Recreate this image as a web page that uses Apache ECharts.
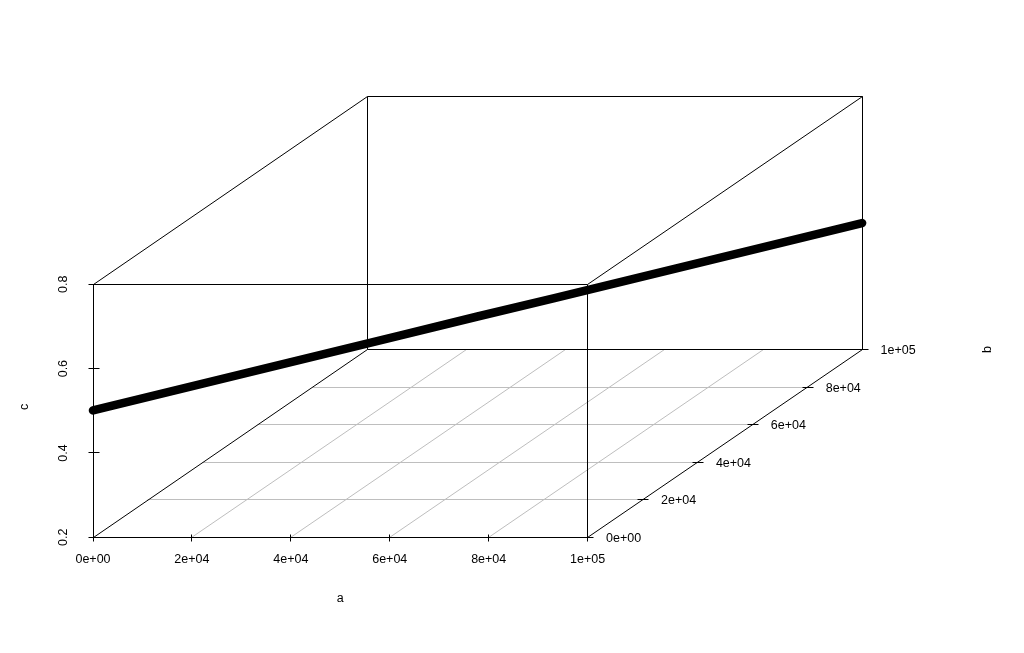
<!DOCTYPE html>
<html>
<head>
<meta charset="utf-8">
<style>html,body{margin:0;padding:0;background:#fff}#chart{width:1024px;height:653px}</style>
<script src="https://cdn.jsdelivr.net/npm/echarts@6/dist/echarts.min.js"></script>
</head>
<body>
<div id="chart"></div>
<script>
// ---- data ----
const aTicks = [0, 20000, 40000, 60000, 80000, 100000];
const bTicks = [0, 20000, 40000, 60000, 80000, 100000];
const cTicks = [0.2, 0.4, 0.6, 0.8];
const aTickLabels = ['0e+00', '2e+04', '4e+04', '6e+04', '8e+04', '1e+05'];
const bTickLabels = ['0e+00', '2e+04', '4e+04', '6e+04', '8e+04', '1e+05'];
const cTickLabels = ['0.2', '0.4', '0.6', '0.8'];
const aValues = [0, 10000, 20000, 30000, 40000, 50000, 60000, 70000, 80000, 90000, 100000];
const bValues = [0, 10000, 20000, 30000, 40000, 50000, 60000, 70000, 80000, 90000, 100000];
const cValues = [0.501, 0.501, 0.501, 0.501, 0.501, 0.501, 0.5, 0.5, 0.5, 0.5, 0.5];

// ---- oblique projection: b shears the a axis right and the c axis up ----
const pxA = 494.6, pxC = 253, pxBx = 274.5, pxBy = 187.75;
const pxPerA = pxA / 100000, pxPerC = pxC / 0.6;
const bShiftX = pxBx / pxPerA / 100000;   // a-units per unit of b
const bShiftY = pxBy / pxPerC / 100000;   // c-units per unit of b
const project = (a, b, c) => [a + b * bShiftX, c + b * bShiftY];

const aMin = aTicks[0], aMax = aTicks[aTicks.length - 1];
const bMin = bTicks[0], bMax = bTicks[bTicks.length - 1];
const cMin = cTicks[0], cMax = cTicks[cTicks.length - 1];
const seg = (p, q) => project(...p).concat(project(...q));

const gridSegs = [];
aTicks.slice(1, -1).forEach(a => gridSegs.push(seg([a, bMin, cMin], [a, bMax, cMin])));
bTicks.slice(1, -1).forEach(b => gridSegs.push(seg([aMin, b, cMin], [aMax, b, cMin])));

const boxSegs = [
  seg([aMin, bMin, cMin], [aMax, bMin, cMin]), seg([aMax, bMin, cMin], [aMax, bMin, cMax]),
  seg([aMax, bMin, cMax], [aMin, bMin, cMax]), seg([aMin, bMin, cMax], [aMin, bMin, cMin]),
  seg([aMin, bMax, cMin], [aMax, bMax, cMin]), seg([aMax, bMax, cMin], [aMax, bMax, cMax]),
  seg([aMax, bMax, cMax], [aMin, bMax, cMax]), seg([aMin, bMax, cMax], [aMin, bMax, cMin]),
  seg([aMin, bMin, cMin], [aMin, bMax, cMin]), seg([aMax, bMin, cMin], [aMax, bMax, cMin]),
  seg([aMin, bMin, cMax], [aMin, bMax, cMax]), seg([aMax, bMin, cMax], [aMax, bMax, cMax])
];

const fontSize = 12.5;
const snap = v => Math.floor(v) + 0.5;
const segmentSeries = (data, color) => ({
  type: 'custom', data, silent: true, clip: false, encode: { x: [0, 2], y: [1, 3] },
  renderItem(params, api) {
    const p = api.coord([api.value(0), api.value(1)]);
    const q = api.coord([api.value(2), api.value(3)]);
    return { type: 'line', shape: { x1: snap(p[0]), y1: snap(p[1]), x2: snap(q[0]), y2: snap(q[1]) },
             style: { stroke: color, lineWidth: 1 } };
  }
});
const tickSeries = (data, halfX, halfY) => ({
  type: 'custom', data, silent: true, clip: false, encode: { x: 0, y: 1 },
  renderItem(params, api) {
    const p = api.coord([api.value(0), api.value(1)]);
    const x = snap(p[0]), y = snap(p[1]);
    return { type: 'line', shape: { x1: x - halfX, y1: y - halfY, x2: x + halfX + (halfY ? 0 : 1), y2: y + halfY + (halfX ? 0 : 1) },
             style: { stroke: '#000', lineWidth: 1 } };
  }
});
const textSeries = (point, text, ox, oy, rotate) => ({
  type: 'scatter', data: [point], symbolSize: 1, itemStyle: { color: 'transparent', opacity: 1 }, silent: true, clip: false,
  label: { show: true, position: 'inside', formatter: text, offset: [ox, oy], rotate,
           color: '#000', fontFamily: 'Liberation Sans', fontSize }
});

const option = {
  animation: false,
  backgroundColor: '#fff',
  grid: { left: 93, top: 96.55, width: pxA + pxBx, height: pxC + pxBy },
  xAxis: {
    type: 'value', min: 0, max: aMax + bMax * bShiftX,
    axisLine: { show: false }, axisTick: { show: false }, splitLine: { show: false },
    axisLabel: {
      customValues: aTicks, margin: 16, color: '#000', fontFamily: 'Liberation Sans', fontSize,
      formatter: v => aTickLabels[aTicks.indexOf(v)]
    }
  },
  yAxis: {
    type: 'value', min: cMin, max: cMax + bMax * bShiftY,
    axisLine: { show: false }, axisTick: { show: false }, splitLine: { show: false },
    axisLabel: {
      customValues: cTicks, rotate: 90, margin: 23, color: '#000', fontFamily: 'Liberation Sans', fontSize,
      formatter: v => cTickLabels[cTicks.indexOf(v)]
    }
  },
  series: [
    segmentSeries(gridSegs, '#bebebe'),
    segmentSeries(boxSegs, '#000'),
    tickSeries(aTicks.map(a => project(a, bMin, cMin)), 0, 3),
    tickSeries(cTicks.map(c => project(aMin, bMin, c)), 5, 0),
    tickSeries(bTicks.map(b => project(aMax, b, cMin)), 5, 0),
    {
      type: 'line', silent: true, clip: false, showSymbol: false,
      data: aValues.map((a, i) => project(a, bValues[i], cValues[i])),
      lineStyle: { color: '#000', width: 8.5, cap: 'round', join: 'round' }
    },
    ...bTicks.map((b, i) => {
      const s = textSeries(project(aMax, b, cMin), bTickLabels[i], 0, 1, 0);
      s.label.position = 'right'; s.label.distance = 18;
      return s;
    }),
    textSeries(project(50000, bMin, cMin), 'a', 0, 61, 0),
    textSeries(project(aMax, bMax, cMin), 'b', 0, 125, 90),
    textSeries(project(aMin, bMin, 0.5), 'c', 4, -68, 90)
  ]
};
const chart = echarts.init(document.getElementById('chart'), null, { renderer: 'canvas' });
chart.setOption(option);
</script>
</body>
</html>
